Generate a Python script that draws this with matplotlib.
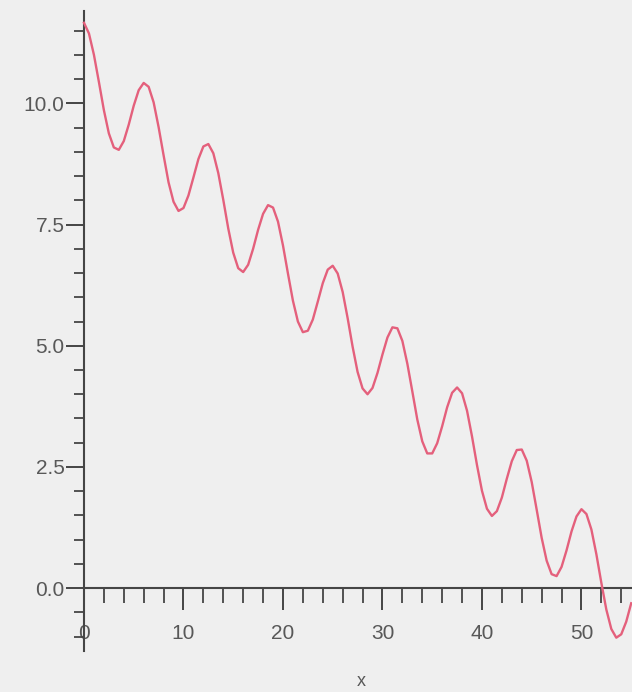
import matplotlib
matplotlib.use("Agg")
import matplotlib.pyplot as plt
from matplotlib.ticker import FixedLocator

# values (x step 0.5)
x_vals = [0.0, 0.5, 1.0, 1.5, 2.0, 2.5, 3.0, 3.5, 4.0, 4.5,
          5.0, 5.5, 6.0, 6.5, 7.0, 7.5, 8.0, 8.5, 9.0, 9.5,
          10.0, 10.5, 11.0, 11.5, 12.0, 12.5, 13.0, 13.5, 14.0, 14.5,
          15.0, 15.5, 16.0, 16.5, 17.0, 17.5, 18.0, 18.5, 19.0, 19.5,
          20.0, 20.5, 21.0, 21.5, 22.0, 22.5, 23.0, 23.5, 24.0, 24.5,
          25.0, 25.5, 26.0, 26.5, 27.0, 27.5, 28.0, 28.5, 29.0, 29.5,
          30.0, 30.5, 31.0, 31.5, 32.0, 32.5, 33.0, 33.5, 34.0, 34.5,
          35.0, 35.5, 36.0, 36.5, 37.0, 37.5, 38.0, 38.5, 39.0, 39.5,
          40.0, 40.5, 41.0, 41.5, 42.0, 42.5, 43.0, 43.5, 44.0, 44.5,
          45.0, 45.5, 46.0, 46.5, 47.0, 47.5, 48.0, 48.5, 49.0, 49.5,
          50.0, 50.5, 51.0, 51.5, 52.0, 52.5, 53.0, 53.5, 54.0, 54.5,
          55.0]
y_vals = [11.66, 11.44, 11.00, 10.44, 9.86, 9.38, 9.09, 9.04, 9.22, 9.56,
          9.95, 10.27, 10.42, 10.34, 10.02, 9.51, 8.93, 8.37, 7.97, 7.78,
          7.84, 8.10, 8.47, 8.85, 9.11, 9.16, 8.97, 8.56, 8.01, 7.42,
          6.92, 6.60, 6.52, 6.67, 7.00, 7.39, 7.72, 7.90, 7.85, 7.56,
          7.07, 6.49, 5.93, 5.50, 5.28, 5.31, 5.54, 5.91, 6.29, 6.57,
          6.65, 6.49, 6.11, 5.57, 4.98, 4.46, 4.12, 4.00, 4.13, 4.44,
          4.82, 5.17, 5.38, 5.36, 5.10, 4.63, 4.06, 3.48, 3.03, 2.78,
          2.78, 2.99, 3.34, 3.73, 4.03, 4.14, 4.02, 3.66, 3.13, 2.54,
          2.01, 1.64, 1.49, 1.59, 1.87, 2.26, 2.62, 2.85, 2.86, 2.63,
          2.19, 1.62, 1.04, 0.57, 0.29, 0.25, 0.44, 0.78, 1.17, 1.48,
          1.63, 1.53, 1.21, 0.70, 0.11, -0.44, -0.84, -1.02, -0.95, -0.69,
          -0.31]

x_ticks = [0, 10, 20, 30, 40, 50]
x_minor = [2, 4, 6, 8, 12, 14, 16, 18, 22, 24, 26, 28, 32, 34, 36, 38,
           42, 44, 46, 48, 52, 54]
y_ticks = [0.0, 2.5, 5.0, 7.5, 10.0]
y_tick_labels = ["0.0", "2.5", "5.0", "7.5", "10.0"]
y_minor = [-1.0, -0.5, 0.5, 1.0, 1.5, 2.0, 3.0, 3.5, 4.0, 4.5, 5.5, 6.0,
           6.5, 7.0, 8.0, 8.5, 9.0, 9.5, 10.5, 11.0, 11.5]

bg = "#efefef"
axis_col = "#454545"
text_col = "#585858"
tick_font = ["Liberation Sans", "DejaVu Sans"]

fig = plt.figure(figsize=(6.32, 6.92), dpi=100, facecolor=bg)
ax = fig.add_axes([0, 0, 1, 1], facecolor=bg)

ax.plot(x_vals, y_vals, color="#e4607c", lw=1.7, zorder=3,
        solid_joinstyle="round")

ax.set_xlim(-8.44, 55.08)
ax.set_ylim(-2.14, 12.13)

for s in ["top", "right"]:
    ax.spines[s].set_visible(False)
ax.spines["left"].set_position(("data", 0))
ax.spines["bottom"].set_position(("data", 0))
ax.spines["left"].set_bounds(-1.3, 11.9)
ax.spines["bottom"].set_bounds(0, 55.08)
for s in ["left", "bottom"]:
    ax.spines[s].set_color(axis_col)
    ax.spines[s].set_linewidth(1.5)

ax.xaxis.set_major_locator(FixedLocator(x_ticks))
ax.xaxis.set_minor_locator(FixedLocator(x_minor))
ax.yaxis.set_major_locator(FixedLocator(y_ticks))
ax.yaxis.set_minor_locator(FixedLocator(y_minor))
ax.set_yticklabels(y_tick_labels)

ax.tick_params(axis="x", which="major", direction="out", length=16, width=1.4,
               color=axis_col, labelcolor=text_col, labelsize=15, pad=10)
ax.tick_params(axis="x", which="minor", direction="out", length=11, width=1.3,
               color=axis_col)
ax.tick_params(axis="y", which="major", direction="out", length=13, width=1.4,
               color=axis_col, labelcolor=text_col, labelsize=15, pad=1)
ax.tick_params(axis="y", which="minor", direction="out", length=7, width=1.3,
               color=axis_col)
for lab in ax.get_xticklabels() + ax.get_yticklabels():
    lab.set_family(tick_font)

ax.text(27.9, -1.93, "x", color=text_col, fontsize=13, ha="center",
        va="center", family=tick_font)

fig.savefig("out.png", dpi=100, facecolor=bg)
